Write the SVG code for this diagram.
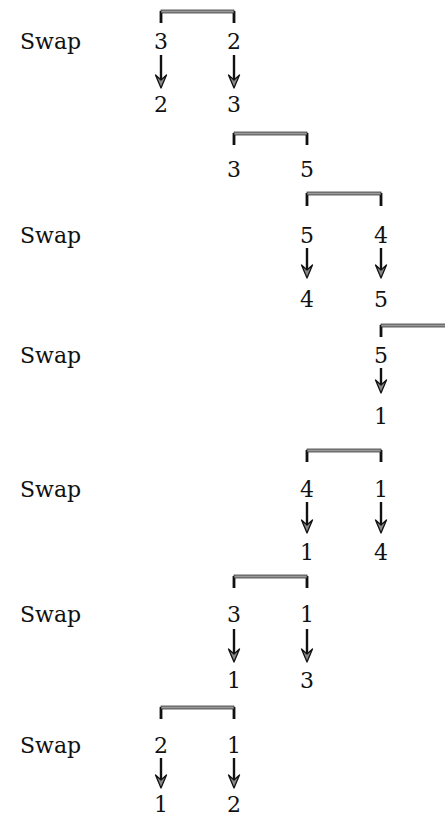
<svg xmlns="http://www.w3.org/2000/svg" width="445" height="818" viewBox="0 0 445 818">
<style>
text{font-family:"DejaVu Serif","Liberation Serif",serif;font-size:22px;fill:#111}
.n{text-anchor:middle}
.bar{fill:#9a9a9a;stroke:#222;stroke-width:0.7}
.tick{stroke:#111;stroke-width:2.8;fill:none}
.arr{stroke:#111;stroke-width:2.4;marker-end:url(#ah)}
</style>
<defs>
<marker id="ah" markerUnits="userSpaceOnUse" viewBox="-1 -7 15 14" markerWidth="15" markerHeight="14" refX="6" refY="0" orient="auto">
<path d="M0,-5.5 L13,0 L0,5.5 L5,0 Z" fill="#888" stroke="#111" stroke-width="1.3" stroke-linejoin="round"/>
</marker>
</defs>
<rect width="445" height="818" fill="#fff"/>

<g id="brackets">
<g id="b1"><path class="tick" d="M161,23 V11 M234,23 V11"/><rect class="bar" x="161" y="10" width="73" height="3"/></g>
<g id="b2"><path class="tick" d="M234,145 V133 M307,145 V133"/><rect class="bar" x="234" y="132" width="73" height="3"/></g>
<g id="b3"><path class="tick" d="M307,206 V193 M381,206 V193"/><rect class="bar" x="307" y="192" width="74" height="3"/></g>
<g id="b4"><path class="tick" d="M381,337 V325"/><rect class="bar" x="381" y="324" width="66" height="3"/></g>
<g id="b5"><path class="tick" d="M307,462 V450 M381,462 V450"/><rect class="bar" x="307" y="449" width="74" height="3"/></g>
<g id="b6"><path class="tick" d="M234,588 V576 M307,588 V576"/><rect class="bar" x="234" y="575" width="73" height="3"/></g>
<g id="b7"><path class="tick" d="M161,719 V707 M234,719 V707"/><rect class="bar" x="161" y="706" width="73" height="3"/></g>
</g>

<g id="connectors">
<line class="arr" x1="161" y1="55" x2="161" y2="81"/>
<line class="arr" x1="234" y1="55" x2="234" y2="81"/>
<line class="arr" x1="307" y1="248" x2="307" y2="271"/>
<line class="arr" x1="381" y1="248" x2="381" y2="271"/>
<line class="arr" x1="381" y1="368" x2="381" y2="386"/>
<line class="arr" x1="307" y1="502" x2="307" y2="526"/>
<line class="arr" x1="381" y1="502" x2="381" y2="526"/>
<line class="arr" x1="234" y1="629" x2="234" y2="655"/>
<line class="arr" x1="307" y1="629" x2="307" y2="655"/>
<line class="arr" x1="161" y1="758" x2="161" y2="781"/>
<line class="arr" x1="234" y1="758" x2="234" y2="781"/>
</g>

<g id="row1">
<text x="20" y="49">Swap</text>
<text class="n" x="161" y="49">3</text><text class="n" x="234" y="49">2</text>
<text class="n" x="161" y="112">2</text><text class="n" x="234" y="112">3</text>
</g>
<g id="row2">
<text class="n" x="234" y="177">3</text><text class="n" x="307" y="177">5</text>
</g>
<g id="row3">
<text x="20" y="243">Swap</text>
<text class="n" x="307" y="243">5</text><text class="n" x="381" y="243">4</text>
<text class="n" x="307" y="307">4</text><text class="n" x="381" y="307">5</text>
</g>
<g id="row4">
<text x="20" y="363">Swap</text>
<text class="n" x="381" y="363">5</text>
<text class="n" x="381" y="424">1</text>
</g>
<g id="row5">
<text x="20" y="497">Swap</text>
<text class="n" x="307" y="497">4</text><text class="n" x="381" y="497">1</text>
<text class="n" x="307" y="560">1</text><text class="n" x="381" y="560">4</text>
</g>
<g id="row6">
<text x="20" y="622">Swap</text>
<text class="n" x="234" y="622">3</text><text class="n" x="307" y="622">1</text>
<text class="n" x="234" y="688">1</text><text class="n" x="307" y="688">3</text>
</g>
<g id="row7">
<text x="20" y="753">Swap</text>
<text class="n" x="161" y="753">2</text><text class="n" x="234" y="753">1</text>
<text class="n" x="161" y="812">1</text><text class="n" x="234" y="812">2</text>
</g>
</svg>
